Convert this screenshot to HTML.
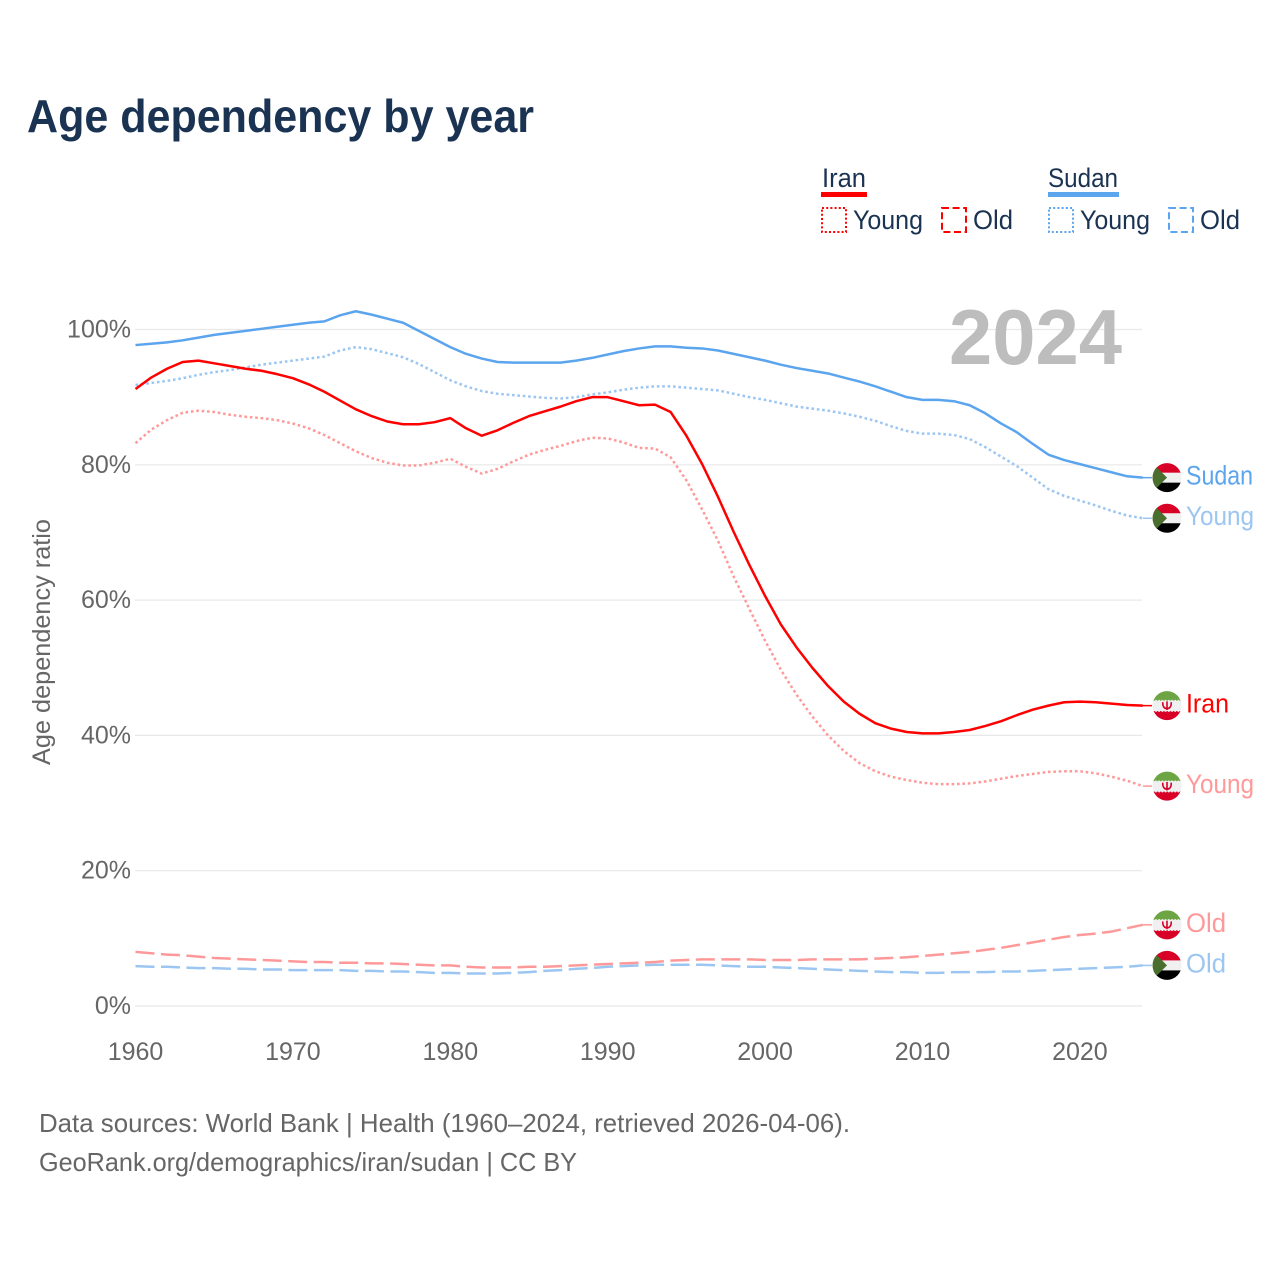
<!DOCTYPE html>
<html lang="en">
<head>
<meta charset="utf-8">
<title>Age dependency by year</title>
<style>
html,body{margin:0;padding:0;background:#fff;width:1280px;height:1280px;overflow:hidden}
svg{display:block}
text{font-family:"Liberation Sans",sans-serif}
</style>
</head>
<body>
<svg id="chart" xmlns="http://www.w3.org/2000/svg" width="1280" height="1280" viewBox="0 0 1280 1280">
<defs>
<clipPath id="flag-clip"><circle cx="0" cy="0" r="14.5"/></clipPath>
<g id="flag-iran" clip-path="url(#flag-clip)">
<rect x="-15" y="-15" width="30" height="30" fill="#f0f0f0"/>
<rect x="-15" y="-15" width="30" height="10" fill="#6da544"/>
<rect x="-15" y="5.5" width="30" height="10" fill="#d80027"/>
<path d="M-15 -5h30M-15 5.5h30" stroke="#f0f0f0" stroke-width="1.4" stroke-dasharray="1.6 1.6" fill="none"/>
<path d="M-4.2 -3.4C-4.6 1.6 -2 3 0 3C2 3 4.6 1.6 4.2 -3.4M0 -4.2V4.4" stroke="#d80027" stroke-width="1.6" fill="none"/>
</g>
<g id="flag-sudan" clip-path="url(#flag-clip)">
<rect x="-15" y="-15" width="30" height="30" fill="#f0f0f0"/>
<rect x="-15" y="-15" width="30" height="10" fill="#d80027"/>
<rect x="-15" y="5" width="30" height="10" fill="#000"/>
<path d="M-15 -15L0 0L-15 15Z" fill="#496e2d"/>
</g>
</defs>

<text x="27" y="132" font-size="46" font-weight="700" fill="#1a3352" textLength="507" lengthAdjust="spacingAndGlyphs">Age dependency by year</text>

<g id="grid"></g>
<g id="yticks"></g>
<g id="xticks"></g>

<text transform="translate(50,642) rotate(-90)" text-anchor="middle" font-size="25" fill="#666" textLength="246" lengthAdjust="spacingAndGlyphs">Age dependency ratio</text>

<text x="949" y="364" font-size="78" font-weight="700" fill="#bdbdbd" textLength="173" lengthAdjust="spacingAndGlyphs">2024</text>

<g id="series"></g>
<g id="end-labels"></g>

<g>
<g>
<text x="822" y="187" font-size="27" fill="#1a3352" textLength="44" lengthAdjust="spacingAndGlyphs">Iran</text>
<rect x="821" y="192" width="46" height="5" fill="#ff0000"/>
<rect x="822" y="208" width="24" height="24" fill="none" stroke="#ff0000" stroke-width="2" stroke-dasharray="2 2.2"/>
<text x="853" y="229" font-size="27" fill="#1a3352" textLength="70" lengthAdjust="spacingAndGlyphs">Young</text>
<rect x="942" y="208" width="24" height="24" fill="none" stroke="#ff0000" stroke-width="2" stroke-dasharray="7 3.6"/>
<text x="973" y="229" font-size="27" fill="#1a3352" textLength="40" lengthAdjust="spacingAndGlyphs">Old</text>
</g>
<g>
<text x="1048" y="187" font-size="27" fill="#1a3352" textLength="70" lengthAdjust="spacingAndGlyphs">Sudan</text>
<rect x="1048" y="192" width="71" height="5" fill="#5ba4ee"/>
<rect x="1049" y="208" width="24" height="24" fill="none" stroke="#5ba4ee" stroke-width="2" stroke-dasharray="2 2.2"/>
<text x="1080" y="229" font-size="27" fill="#1a3352" textLength="70" lengthAdjust="spacingAndGlyphs">Young</text>
<rect x="1169" y="208" width="24" height="24" fill="none" stroke="#5ba4ee" stroke-width="2" stroke-dasharray="7 3.6"/>
<text x="1200" y="229" font-size="27" fill="#1a3352" textLength="40" lengthAdjust="spacingAndGlyphs">Old</text>
</g>
</g>

<text x="39" y="1132" font-size="26" fill="#666" textLength="811" lengthAdjust="spacingAndGlyphs">Data sources: World Bank | Health (1960–2024, retrieved 2026-04-06).</text>
<text x="39" y="1171" font-size="26" fill="#666" textLength="538" lengthAdjust="spacingAndGlyphs">GeoRank.org/demographics/iran/sudan | CC BY</text>
</svg>

<script>
const startYear = 1960;
const yTickValues = [0, 20, 40, 60, 80, 100];
const xTickValues = [1960, 1970, 1980, 1990, 2000, 2010, 2020];

const sudanTotal = [97.7,97.9,98.1,98.4,98.8,99.2,99.5,99.8,100.1,100.4,100.7,101.0,101.2,102.1,102.7,102.2,101.6,101.0,99.8,98.6,97.4,96.4,95.7,95.2,95.1,95.1,95.1,95.1,95.4,95.8,96.3,96.8,97.2,97.5,97.5,97.3,97.2,96.9,96.4,95.9,95.4,94.8,94.3,93.9,93.5,92.9,92.3,91.6,90.8,90.0,89.6,89.6,89.4,88.8,87.6,86.1,84.8,83.1,81.5,80.7,80.1,79.5,78.9,78.3,78.1];
const sudanYoung = [91.8,92.1,92.4,92.8,93.3,93.7,94.0,94.4,94.8,95.1,95.4,95.7,96.0,96.9,97.4,97.1,96.5,95.9,94.9,93.7,92.5,91.6,90.9,90.5,90.3,90.1,89.9,89.8,90.0,90.4,90.7,91.1,91.4,91.6,91.6,91.4,91.2,91.0,90.5,90.0,89.6,89.1,88.6,88.3,88.0,87.6,87.1,86.5,85.7,85.0,84.6,84.6,84.4,83.8,82.6,81.2,79.8,78.1,76.4,75.4,74.7,74.0,73.2,72.5,72.1];
const sudanOld = [5.9,5.8,5.8,5.7,5.6,5.6,5.5,5.5,5.4,5.4,5.3,5.3,5.3,5.3,5.2,5.2,5.1,5.1,5.0,4.9,4.9,4.8,4.8,4.8,4.9,5.0,5.2,5.3,5.5,5.6,5.8,5.9,6.0,6.1,6.1,6.1,6.1,6.0,5.9,5.8,5.8,5.7,5.6,5.5,5.4,5.3,5.2,5.1,5.0,5.0,4.9,4.9,5.0,5.0,5.0,5.1,5.1,5.2,5.3,5.4,5.5,5.6,5.7,5.8,6.0];
const iranTotal = [91.2,92.9,94.2,95.2,95.4,95.0,94.6,94.2,93.9,93.4,92.8,91.9,90.8,89.5,88.2,87.2,86.4,86.0,86.0,86.3,86.9,85.4,84.3,85.1,86.2,87.2,87.9,88.6,89.4,90.0,90.0,89.4,88.8,88.9,87.8,84.3,80.1,75.3,70.1,65.2,60.6,56.4,53.0,50.0,47.3,45.0,43.2,41.8,41.0,40.5,40.3,40.3,40.5,40.8,41.4,42.1,43.0,43.8,44.4,44.9,45.0,44.9,44.7,44.5,44.4];
const iranYoung = [83.2,85.2,86.6,87.7,88.0,87.8,87.4,87.1,86.9,86.6,86.1,85.4,84.4,83.2,82.0,81.0,80.3,79.9,79.9,80.3,80.9,79.7,78.7,79.4,80.5,81.5,82.2,82.8,83.5,84.0,83.9,83.3,82.5,82.4,81.1,77.7,73.4,68.8,63.5,58.7,54.0,49.7,46.0,42.8,40.0,37.7,35.9,34.7,33.9,33.4,33.0,32.8,32.8,32.9,33.2,33.6,34.0,34.3,34.6,34.7,34.7,34.4,33.9,33.3,32.5];
const iranOld = [8.0,7.8,7.6,7.5,7.3,7.1,7.0,6.9,6.8,6.7,6.6,6.5,6.5,6.4,6.4,6.3,6.3,6.2,6.1,6.0,6.0,5.8,5.7,5.7,5.7,5.8,5.8,5.9,6.0,6.1,6.2,6.3,6.4,6.5,6.7,6.8,6.9,6.9,6.9,6.9,6.8,6.8,6.8,6.9,6.9,6.9,6.9,7.0,7.1,7.2,7.4,7.6,7.8,8.0,8.3,8.6,9.0,9.4,9.8,10.2,10.5,10.7,11.0,11.5,12.0];

const NS = 'http://www.w3.org/2000/svg';
const xScale = function (year) { return 135.5 + (year - 1960) * 15.74; };
const yScale = function (v) { return 1006 - v * 6.765; };

const gridLayer = document.getElementById('grid');
const yTickLayer = document.getElementById('yticks');
const xTickLayer = document.getElementById('xticks');
const seriesLayer = document.getElementById('series');
const labelLayer = document.getElementById('end-labels');

yTickValues.forEach(function (v) {
  const line = document.createElementNS(NS, 'line');
  
  
  line.setAttribute('x1', 135);
  line.setAttribute('x2', 1142);
  line.setAttribute('y1', yScale(v));
  line.setAttribute('y2', yScale(v));
  line.setAttribute('stroke', '#e8e8e8');
  line.setAttribute('stroke-width', 1.2);
  gridLayer.appendChild(line);

  const t = document.createElementNS(NS, 'text');
  
  
  t.setAttribute('x', 131);
  t.setAttribute('y', yScale(v) + 8);
  t.setAttribute('text-anchor', 'end');
  t.setAttribute('font-size', 25);
  t.setAttribute('fill', '#666');
  t.textContent = v + '%';
  yTickLayer.appendChild(t);
});

xTickValues.forEach(function (year) {
  const t = document.createElementNS(NS, 'text');
  
  
  t.setAttribute('x', xScale(year));
  t.setAttribute('y', 1060);
  t.setAttribute('text-anchor', 'middle');
  t.setAttribute('font-size', 25);
  t.setAttribute('fill', '#666');
  t.textContent = year;
  xTickLayer.appendChild(t);
});

function drawLine(values, color, dash, name) {
  const pts = values.map(function (v, i) {
    return xScale(startYear + i).toFixed(2) + ',' + yScale(v).toFixed(2);
  });
  const last = values[values.length - 1];
  const p = document.createElementNS(NS, 'polyline');
  
  
  p.setAttribute('points', pts.join(' '));
  p.setAttribute('fill', 'none');
  p.setAttribute('stroke', color);
  p.setAttribute('stroke-width', 2.5);
  p.setAttribute('stroke-linejoin', 'round');
  if (dash) p.setAttribute('stroke-dasharray', dash);
  seriesLayer.appendChild(p);

  const lead = document.createElementNS(NS, 'line');
  
  
  lead.setAttribute('x1', xScale(startYear + values.length - 1));
  lead.setAttribute('x2', 1152);
  lead.setAttribute('y1', yScale(last));
  lead.setAttribute('y2', yScale(last));
  lead.setAttribute('stroke', color);
  lead.setAttribute('stroke-width', 1.5);
  seriesLayer.appendChild(lead);
}

function drawEndLabel(values, flag, text, color, width, name) {
  const y = yScale(values[values.length - 1]);
  const u = document.createElementNS(NS, 'use');
  
  
  u.setAttribute('href', '#' + flag);
  u.setAttribute('transform', 'translate(1167,' + y + ')');
  labelLayer.appendChild(u);

  const t = document.createElementNS(NS, 'text');
  
  
  t.setAttribute('x', 1186);
  t.setAttribute('y', y + 7);
  t.setAttribute('font-size', 27);
  t.setAttribute('fill', color);
  t.setAttribute('textLength', width);
  t.setAttribute('lengthAdjust', 'spacingAndGlyphs');
  t.textContent = text;
  labelLayer.appendChild(t);
}

const dotted = '2.6 2.8';
const dashed = '19 6.5';
drawLine(iranOld, '#ff9999', dashed, 'iran-old-line');
drawLine(sudanOld, '#9cc6f2', dashed, 'sudan-old-line');
drawLine(iranYoung, '#ff9999', dotted, 'iran-young-line');
drawLine(sudanYoung, '#9cc6f2', dotted, 'sudan-young-line');
drawLine(sudanTotal, '#5ba4ee', null, 'sudan-total-line');
drawLine(iranTotal, '#ff0000', null, 'iran-total-line');

drawEndLabel(sudanTotal, 'flag-sudan', 'Sudan', '#5ba4ee', 67, 'sudan-total');
drawEndLabel(sudanYoung, 'flag-sudan', 'Young', '#9cc6f2', 68, 'sudan-young');
drawEndLabel(iranTotal, 'flag-iran', 'Iran', '#ff0000', 43, 'iran-total');
drawEndLabel(iranYoung, 'flag-iran', 'Young', '#ff9999', 68, 'iran-young');
drawEndLabel(iranOld, 'flag-iran', 'Old', '#ff9999', 40, 'iran-old');
drawEndLabel(sudanOld, 'flag-sudan', 'Old', '#9cc6f2', 40, 'sudan-old');
</script>
</body>
</html>
